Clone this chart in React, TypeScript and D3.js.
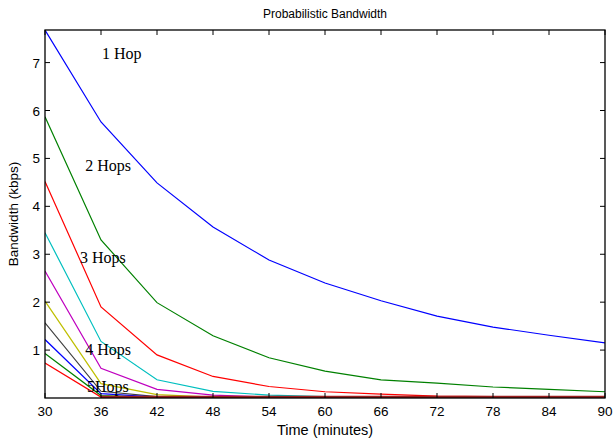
import React from "react";
import * as d3 from "d3";

const times = [30, 36, 42, 48, 54, 60, 66, 72, 78, 84, 90];
const xTicks = [30, 36, 42, 48, 54, 60, 66, 72, 78, 84, 90];
const yTicks = [1, 2, 3, 4, 5, 6, 7];

const hop1 = [7.68, 5.76, 4.49, 3.57, 2.88, 2.4, 2.03, 1.71, 1.48, 1.31, 1.15];
const hop2 = [5.87, 3.3, 1.99, 1.3, 0.84, 0.56, 0.38, 0.31, 0.23, 0.18, 0.13];
const hop3 = [4.52, 1.9, 0.9, 0.45, 0.24, 0.13, 0.08, 0.04, 0.03, 0.02, 0.02];
const hop4 = [3.45, 1.18, 0.38, 0.14, 0.06, 0.03, 0.02, 0.01, 0.01, 0.01, 0.01];
const hop5 = [2.65, 0.62, 0.18, 0.06, 0.02, 0.01, 0.01, 0.01, 0.01, 0.01, 0.01];
const hop6 = [2.02, 0.3, 0.07, 0.02, 0.01, 0.01, 0.01, 0.01, 0.01, 0.01, 0.01];
const hop7 = [1.57, 0.14, 0.03, 0.01, 0.01, 0.01, 0.01, 0.01, 0.01, 0.01, 0.01];
const hop8 = [1.22, 0.09, 0.02, 0.01, 0.01, 0.01, 0.01, 0.01, 0.01, 0.01, 0.01];
const hop9 = [0.93, 0.05, 0.01, 0.01, 0.01, 0.01, 0.01, 0.01, 0.01, 0.01, 0.01];
const hop10 = [0.73, 0.02, 0.01, 0.01, 0.01, 0.01, 0.01, 0.01, 0.01, 0.01, 0.01];
const floorTimes = [36, 42, 48, 54, 60, 66, 72, 78, 84, 90];
const floorValues = [0.01, 0.01, 0.01, 0.01, 0.01, 0.01, 0.01, 0.01, 0.01, 0.01];

const seriesList = [hop1, hop2, hop3, hop4, hop5, hop6, hop7, hop8, hop9, hop10];
const seriesColors = ["#0000ff", "#008000", "#ff0000", "#00bfbf", "#bf00bf", "#bfbf00", "#404040", "#0000ff", "#008000", "#ff0000"];

const hopLabels = [
  { text: "1 Hop", t: 36.1, v: 7.08 },
  { text: "2 Hops", t: 34.3, v: 4.74 },
  { text: "3 Hops", t: 33.75, v: 2.82 },
  { text: "4 Hops", t: 34.3, v: 0.9 },
  { text: "5Hops", t: 34.5, v: 0.13 },
];

export default function App() {
  const W = 613, H = 441;
  const L = 45, R = 605, T = 30, B = 398;
  const x = d3.scaleLinear().domain([30, 90]).range([L, R]);
  const y = d3.scaleLinear().domain([0, 7.68]).range([B, T]);
  const line = d3.line<number>().x((_, i) => x(times[i])).y((d) => y(d));
  const floorLine = d3.line<number>().x((_, i) => x(floorTimes[i])).y((d) => y(d) - 0.5);
  const sans = "Arial, 'Liberation Sans', sans-serif";
  const serif = "'Times New Roman', 'Liberation Serif', serif";

  return (
    <svg width={W} height={H} style={{ position: "absolute", left: 0, top: 0, background: "#fff" }}>
      <defs>
        <clipPath id="plot">
          <rect x={L} y={T} width={R - L} height={B - T} />
        </clipPath>
      </defs>
      <rect x={0} y={0} width={W} height={H} fill="#fff" />
      <g clipPath="url(#plot)">
        {seriesList.map((s, i) => (
          <path key={i} d={line(s) || ""} fill="none" stroke={seriesColors[i]} strokeWidth={1.2} />
        ))}
        <path d={floorLine(floorValues) || ""} fill="none" stroke="#9a1f1f" strokeWidth={2.5} />
      </g>
      {hopLabels.map((h, i) => (
        <text key={i} x={x(h.t)} y={y(h.v)} fontFamily={serif} fontSize={16} fill="#000">
          {h.text}
        </text>
      ))}
      <rect x={L} y={T} width={R - L} height={B - T} fill="none" stroke="#000" strokeWidth={1.3} />
      {xTicks.map((t) => (
        <g key={"x" + t}>
          <line x1={x(t)} x2={x(t)} y1={B} y2={B - 5} stroke="#000" />
          <line x1={x(t)} x2={x(t)} y1={T} y2={T + 5} stroke="#000" />
          <text x={x(t)} y={B + 18} textAnchor="middle" fontFamily={sans} fontSize={13.5} fill="#000">
            {t}
          </text>
        </g>
      ))}
      {yTicks.map((t) => (
        <g key={"y" + t}>
          <line x1={L} x2={L + 5} y1={y(t)} y2={y(t)} stroke="#000" />
          <line x1={R} x2={R - 5} y1={y(t)} y2={y(t)} stroke="#000" />
          <text x={L - 5} y={y(t) + 5} textAnchor="end" fontFamily={sans} fontSize={13.5} fill="#000">
            {t}
          </text>
        </g>
      ))}
      <text x={(L + R) / 2} y={18} textAnchor="middle" fontFamily={sans} fontSize={12} fill="#000">
        Probabilistic Bandwidth
      </text>
      <text x={(L + R) / 2} y={435} textAnchor="middle" fontFamily={sans} fontSize={14.5} fill="#000">
        Time (minutes)
      </text>
      <text transform={`translate(18, ${(T + B) / 2}) rotate(-90)`} textAnchor="middle" fontFamily={sans} fontSize={13.5} fill="#000">
        Bandwidth (kbps)
      </text>
    </svg>
  );
}
